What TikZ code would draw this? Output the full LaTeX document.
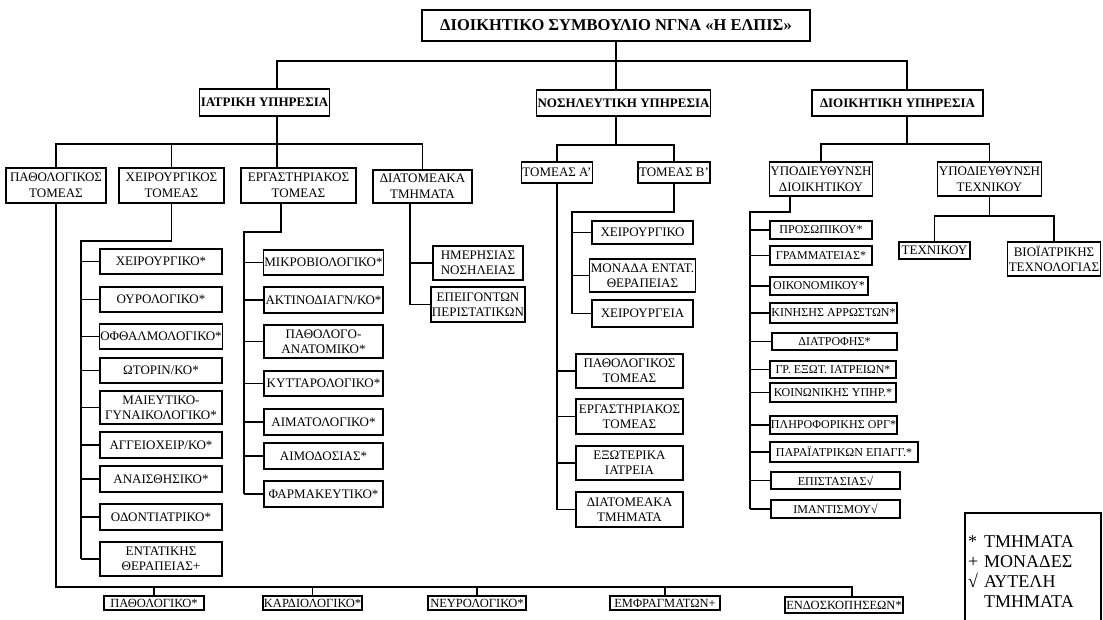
\documentclass[tikz,border=0pt]{standalone}
\usepackage{fontspec}
\setmainfont{Liberation Serif}

\begin{document}
\begin{tikzpicture}[x=1pt,y=-1pt,line width=1.1pt,
	every node/.style={black},
	box/.style={draw,align=center,inner sep=1pt},
	head/.style={box,font=\fontsize{16.5}{18}\selectfont\bfseries},
	service/.style={box,font=\fontsize{13}{15}\selectfont\bfseries},
	sector/.style={box,font=\fontsize{13}{16}\selectfont},
	unit/.style={box,font=\fontsize{13}{15}\selectfont},
	office/.style={box,font=\fontsize{12}{13}\selectfont},
	clinic/.style={box,font=\fontsize{12.5}{13}\selectfont},
	legend/.style={draw,text width=130pt,inner xsep=3pt,align=left,font=\fontsize{18}{20}\selectfont}]
	\useasboundingbox (0,0) rectangle (1103,619);

	\node[head,minimum width=388pt,minimum height=31pt] (title) at (616,25.5) {ΔΙΟΙΚΗΤΙΚΟ ΣΥΜΒΟΥΛΙΟ ΝΓΝΑ «Η ΕΛΠΙΣ»};

	\node[service,minimum width=129pt,minimum height=27pt] (medical) at (264.5,102.5) {ΙΑΤΡΙΚΗ ΥΠΗΡΕΣΙΑ};
	\node[service,minimum width=173pt,minimum height=26pt] (nursing) at (623.5,103) {ΝΟΣΗΛΕΥΤΙΚΗ ΥΠΗΡΕΣΙΑ};
	\node[service,minimum width=171pt,minimum height=26pt] (admin) at (897.5,103) {ΔΙΟΙΚΗΤΙΚΗ ΥΠΗΡΕΣΙΑ};

	\node[sector,minimum width=100pt,minimum height=35pt] (path) at (56,185.5) {ΠΑΘΟΛΟΓΙΚΟΣ\\ΤΟΜΕΑΣ};
	\node[sector,minimum width=105pt,minimum height=35pt] (surg) at (171.5,185.5) {ΧΕΙΡΟΥΡΓΙΚΟΣ\\ΤΟΜΕΑΣ};
	\node[sector,minimum width=115pt,minimum height=35pt] (lab) at (298.5,185.5) {ΕΡΓΑΣΤΗΡΙΑΚΟΣ\\ΤΟΜΕΑΣ};
	\node[sector,minimum width=99pt,minimum height=33pt] (inter) at (422.5,186.5) {ΔΙΑΤΟΜΕΑΚΑ\\ΤΜΗΜΑΤΑ};
	\node[sector,minimum width=70pt,minimum height=21pt] (secA) at (557,172.5) {ΤΟΜΕΑΣ Α’};
	\node[sector,minimum width=72pt,minimum height=21pt] (secB) at (674,172.5) {ΤΟΜΕΑΣ Β’};
	\node[sector,minimum width=98pt,minimum height=34pt] (subAdm) at (821,179) {ΥΠΟΔΙΕΥΘΥΝΣΗ\\ΔΙΟΙΚΗΤΙΚΟΥ};
	\node[sector,minimum width=101pt,minimum height=34pt] (subTech) at (989.5,179) {ΥΠΟΔΙΕΥΘΥΝΣΗ\\ΤΕΧΝΙΚΟΥ};

	% χειρουργικος τομεας
	\node[unit,minimum width=122pt,minimum height=25pt] (s1) at (161,261.5) {ΧΕΙΡΟΥΡΓΙΚΟ*};
	\node[unit,minimum width=122pt,minimum height=25pt] (s2) at (161,299.5) {ΟΥΡΟΛΟΓΙΚΟ*};
	\node[unit,minimum width=122pt,minimum height=25pt] (s3) at (161,336.5) {ΟΦΘΑΛΜΟΛΟΓΙΚΟ*};
	\node[unit,minimum width=122pt,minimum height=25pt] (s4) at (161,370.5) {ΩΤΟΡΙΝ/ΚΟ*};
	\node[unit,minimum width=122pt,minimum height=33pt] (s5) at (161,407.5) {ΜΑΙΕΥΤΙΚΟ-\\ΓΥΝΑΙΚΟΛΟΓΙΚΟ*};
	\node[unit,minimum width=122pt,minimum height=26pt] (s6) at (161,445) {ΑΓΓΕΙΟΧΕΙΡ/ΚΟ*};
	\node[unit,minimum width=122pt,minimum height=26pt] (s7) at (161,479) {ΑΝΑΙΣΘΗΣΙΚΟ*};
	\node[unit,minimum width=122pt,minimum height=26pt] (s8) at (161,517) {ΟΔΟΝΤΙΑΤΡΙΚΟ*};
	\node[unit,minimum width=122pt,minimum height=34pt] (s9) at (161,559) {ΕΝΤΑΤΙΚΗΣ\\ΘΕΡΑΠΕΙΑΣ+};

	% εργαστηριακος τομεας
	\node[unit,minimum width=119pt,minimum height=25pt] (l1) at (323.5,262.5) {ΜΙΚΡΟΒΙΟΛΟΓΙΚΟ*};
	\node[unit,minimum width=119pt,minimum height=26pt] (l2) at (323.5,300) {ΑΚΤΙΝΟΔΙΑΓΝ/ΚΟ*};
	\node[unit,minimum width=119pt,minimum height=33pt] (l3) at (323.5,341.5) {ΠΑΘΟΛΟΓΟ-\\ΑΝΑΤΟΜΙΚΟ*};
	\node[unit,minimum width=119pt,minimum height=25pt] (l4) at (323.5,383.5) {ΚΥΤΤΑΡΟΛΟΓΙΚΟ*};
	\node[unit,minimum width=119pt,minimum height=26pt] (l5) at (323.5,422) {ΑΙΜΑΤΟΛΟΓΙΚΟ*};
	\node[unit,minimum width=119pt,minimum height=26pt] (l6) at (323.5,456) {ΑΙΜΟΔΟΣΙΑΣ*};
	\node[unit,minimum width=119pt,minimum height=26pt] (l7) at (323.5,494) {ΦΑΡΜΑΚΕΥΤΙΚΟ*};

	% διατομεακα
	\node[unit,minimum width=90pt,minimum height=34pt] (i1) at (478,263) {ΗΜΕΡΗΣΙΑΣ\\ΝΟΣΗΛΕΙΑΣ};
	\node[unit,minimum width=90pt,minimum height=35pt] (i2) at (478,304.5) {ΕΠΕΙΓΟΝΤΩΝ\\ΠΕΡΙΣΤΑΤΙΚΩΝ};

	% τομεας Β
	\node[unit,minimum width=101pt,minimum height=23pt] (b1) at (642.5,232.5) {ΧΕΙΡΟΥΡΓΙΚΟ};
	\node[unit,minimum width=101pt,minimum height=33pt] (b2) at (642.5,275.5) {ΜΟΝΑΔΑ ΕΝΤΑΤ.\\ΘΕΡΑΠΕΙΑΣ};
	\node[unit,minimum width=101pt,minimum height=27pt] (b3) at (642.5,313.5) {ΧΕΙΡΟΥΡΓΕΙΑ};

	% τομεας Α
	\node[unit,minimum width=107pt,minimum height=34pt] (a1) at (629.5,371) {ΠΑΘΟΛΟΓΙΚΟΣ\\ΤΟΜΕΑΣ};
	\node[unit,minimum width=107pt,minimum height=35pt] (a2) at (629.5,416.5) {ΕΡΓΑΣΤΗΡΙΑΚΟΣ\\ΤΟΜΕΑΣ};
	\node[unit,minimum width=107pt,minimum height=34pt] (a3) at (629.5,463) {ΕΞΩΤΕΡΙΚΑ\\ΙΑΤΡΕΙΑ};
	\node[unit,minimum width=107pt,minimum height=35pt] (a4) at (629.5,509.5) {ΔΙΑΤΟΜΕΑΚΑ\\ΤΜΗΜΑΤΑ};

	% υποδιευθυνση διοικητικου
	\node[office,minimum width=102pt,minimum height=18pt] (o1) at (821,230) {ΠΡΟΣΩΠΙΚΟΥ*};
	\node[office,minimum width=102pt,minimum height=19pt] (o2) at (821,255.5) {ΓΡΑΜΜΑΤΕΙΑΣ*};
	\node[office,minimum width=98pt,minimum height=18pt] (o3) at (819,286) {ΟΙΚΟΝΟΜΙΚΟΥ*};
	\node[office,minimum width=127pt,minimum height=20pt] (o4) at (833.5,313) {ΚΙΝΗΣΗΣ ΑΡΡΩΣΤΩΝ*};
	\node[office,minimum width=125pt,minimum height=17pt] (o5) at (834.5,341.5) {ΔΙΑΤΡΟΦΗΣ*};
	\node[office,minimum width=126pt,minimum height=17pt] (o6) at (833,369.5) {ΓΡ. ΕΞΩΤ. ΙΑΤΡΕΙΩΝ*};
	\node[office,minimum width=126pt,minimum height=19pt] (o7) at (833,392.5) {ΚΟΙΝΩΝΙΚΗΣ ΥΠΗΡ.*};
	\node[office,minimum width=127pt,minimum height=18pt] (o8) at (833.5,425) {ΠΛΗΡΟΦΟΡΙΚΗΣ ΟΡΓ*};
	\node[office,minimum width=148pt,minimum height=20pt] (o9) at (844,452) {ΠΑΡΑΪΑΤΡΙΚΩΝ ΕΠΑΓΓ.*};
	\node[office,minimum width=129pt,minimum height=17pt] (o10) at (835.5,480.5) {ΕΠΙΣΤΑΣΙΑΣ√};
	\node[office,minimum width=129pt,minimum height=18pt] (o11) at (835.5,509) {ΙΜΑΝΤΙΣΜΟΥ√};

	% υποδιευθυνση τεχνικου
	\node[unit,minimum width=71pt,minimum height=17pt] (tech) at (934.5,250.5) {ΤΕΧΝΙΚΟΥ};
	\node[unit,minimum width=92pt,minimum height=34pt] (bio) at (1054,259) {ΒΙΟΪΑΤΡΙΚΗΣ\\ΤΕΧΝΟΛΟΓΙΑΣ};

	% κατω σειρα
	\node[clinic,minimum width=100pt,minimum height=14pt] (k1) at (154,603) {ΠΑΘΟΛΟΓΙΚΟ*};
	\node[clinic,minimum width=99pt,minimum height=14pt] (k2) at (312.5,603) {ΚΑΡΔΙΟΛΟΓΙΚΟ*};
	\node[clinic,minimum width=98pt,minimum height=14pt] (k3) at (477,603) {ΝΕΥΡΟΛΟΓΙΚΟ*};
	\node[clinic,minimum width=110pt,minimum height=14pt] (k4) at (665,603) {ΕΜΦΡΑΓΜΑΤΩΝ+};
	\node[clinic,minimum width=118pt,minimum height=16pt] (k5) at (844,605) {ΕΝΔΟΣΚΟΠΗΣΕΩΝ*};

	\node[legend,minimum height=117pt] (key) at (1033,571.5) {\makebox[0.9em][l]{*}ΤΜΗΜΑΤΑ\\\makebox[0.9em][l]{+}ΜΟΝΑΔΕΣ\\\makebox[0.9em][l]{√}ΑΥΤΕΛΗ\\\hspace*{0.9em}ΤΜΗΜΑΤΑ};

	% γραμμες
	\coordinate (busTop) at (277,61);
	\coordinate (busTopR) at (907,61);
	\draw (title.south) -- (title.south |- nursing.north);
	\draw (busTop |- medical.north) -- (busTop) -- (busTopR) -- (busTopR |- admin.north);

	\coordinate (medBus) at (277,144);
	\draw (medBus |- medical.south) -- (medBus |- lab.north);
	\draw (path.north) |- (medBus) -| (inter.north);
	\draw (surg.north) -- (surg.north |- medBus);

	\coordinate (nurBus) at (616,145);
	\draw (nurBus |- nursing.south) -- (nurBus);
	\draw (secA.north) |- (nurBus) -| (secB.north);

	\coordinate (admBus) at (907,144);
	\draw (admBus |- admin.south) -- (admBus);
	\draw (subAdm.north) |- (admBus) -| (subTech.north);

	\coordinate (surgL) at (81,241);
	\draw (surg.south) |- (surgL) -- (surgL |- s9.west);
	\foreach \i in {1,...,9}
		\draw (surgL |- s\i.west) -- (s\i.west);

	\coordinate (labD) at (281,232);
	\coordinate (labL) at (244,232);
	\draw (labD |- lab.south) -- (labD) -- (labL) -- (labL |- l7.west);
	\foreach \i in {1,...,7}
		\draw (labL |- l\i.west) -- (l\i.west);

	\coordinate (interL) at (410,203);
	\draw (interL |- inter.south) |- (i2.west);
	\draw (interL |- i1.west) -- (i1.west);

	\coordinate (secBL) at (572,212);
	\draw (secB.south) |- (secBL) -- (secBL |- b3.west);
	\foreach \i in {1,2,3}
		\draw (secBL |- b\i.west) -- (b\i.west);

	\draw (secA.south) |- (a4.west);
	\foreach \i in {1,2,3}
		\draw (secA.south |- a\i.west) -- (a\i.west);

	\coordinate (admD) at (790,212);
	\coordinate (admL) at (750,212);
	\draw (admD |- subAdm.south) -- (admD) -- (admL) -- (admL |- o11.west);
	\foreach \i in {1,...,11}
		\draw (admL |- o\i.west) -- (o\i.west);

	\coordinate (techBus) at (989.5,216);
	\draw (subTech.south) -- (techBus);
	\draw (tech.north) |- (techBus) -| (bio.north);

	\coordinate (clinBus) at (852,587);
	\draw (path.south) |- (clinBus) -- (clinBus |- k5.north);
	\foreach \i in {1,...,4}
		\draw (k\i.north) -- (k\i.north |- clinBus);
\end{tikzpicture}
\end{document}
